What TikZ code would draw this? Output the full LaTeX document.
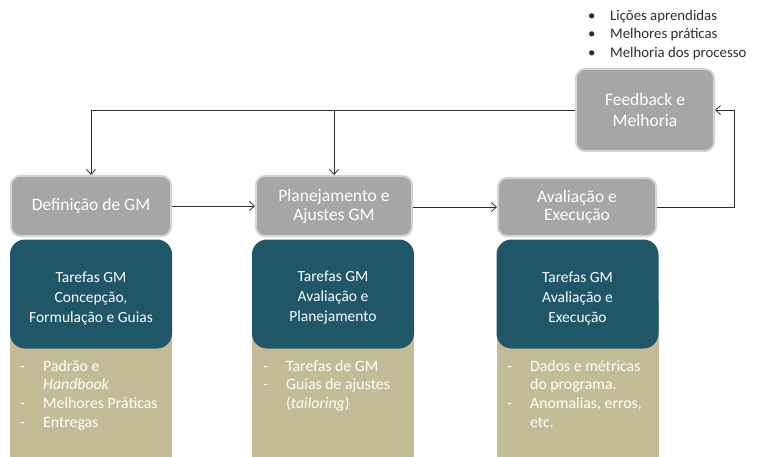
\documentclass[tikz,border=0pt]{standalone}
\usepackage{fontspec}
\setmainfont{Carlito}
\usetikzlibrary{arrows.meta,positioning}
\definecolor{cinza}{RGB}{166,166,166}
\definecolor{cinzaborda}{RGB}{212,212,212}
\definecolor{petroleo}{RGB}{31,86,104}
\definecolor{areia}{RGB}{196,188,150}
\definecolor{linha}{RGB}{45,45,45}
\tikzset{>={Straight Barb[length=5pt,width=9pt]}}
\tikzset{etapa/.style={fill=cinza, draw=cinzaborda, line width=2pt, rounded corners=9pt, text=white, font=\fontsize{17.5}{21.5}\selectfont, align=center, inner sep=0pt}}
\tikzset{tarefa/.style={fill=petroleo, rounded corners=15pt, minimum width=162pt, minimum height=109pt, inner sep=0pt}}
\tikzset{textotarefa/.style={text=white, font=\fontsize{15.5}{20}\selectfont, align=center, inner sep=0pt}}
\tikzset{saida/.style={fill=areia, minimum width=162pt, minimum height=157pt, inner sep=0pt}}
\tikzset{lista/.style={text=white, font=\fontsize{15.8}{18.8}\selectfont, align=left, anchor=north west, inner sep=0pt}}
\tikzset{fluxo/.style={->, draw=linha, line width=0.8pt}}
\newcommand{\traco}{\makebox[23pt][l]{-}}
\newcommand{\recuo}{\hspace*{23pt}}

\begin{document}
\begin{tikzpicture}[x=1pt,y=-1pt]
      \useasboundingbox (0,0) rectangle (760,457);
      % faixas de saida (atras)
      \node[saida] (saidaDef) at (91,378.5) {};
      \node[saida] (saidaPlan) at (333,378.5) {};
      \node[saida] (saidaAval) at (577.5,378.5) {};
      % tarefas
      \node[tarefa] (tarefaDef) at (91,294) {};
      \node[tarefa] (tarefaPlan) at (333,294) {};
      \node[tarefa] (tarefaAval) at (577.5,294) {};
      \node[textotarefa] (txtDef) at ([yshift=-4pt]tarefaDef.center) {Tarefas GM\\Concepção,\\Formulação e Guias};
      \node[textotarefa] (txtPlan) at ([yshift=-4pt]tarefaPlan.center) {Tarefas GM\\Avaliação e\\Planejamento};
      \node[textotarefa] (txtAval) at ([yshift=-4pt]tarefaAval.center) {Tarefas GM\\Avaliação e\\Execução};
      % etapas
      \node[etapa, minimum width=160pt, minimum height=60pt] (def) at (91,206) {Definição de GM};
      \node[etapa, minimum width=156pt, minimum height=60pt] (plan) at (334,206) {\raisebox{-3pt}{\shortstack{Planejamento e\\[1pt]Ajustes GM}}};
      \node[etapa, minimum width=158pt, minimum height=58pt] (aval) at (577,207) {\raisebox{-3pt}{\shortstack{Avaliação e\\[1pt]Execução}}};
      \node[etapa, minimum width=138pt, minimum height=82pt] (fb) at (645,110) {Feedback e\\Melhoria};
      % listas
      \node[lista] (listaDef) at (20,360) {\traco Padrão e\\\recuo\textit{Handbook}\\\traco Melhores Práticas\\\traco Entregas};
      \node[lista] (listaPlan) at (263,360) {\traco Tarefas de GM\\\traco Guias de ajustes\\\recuo(\textit{tailoring})};
      \node[lista] (listaAval) at (507,360) {\traco Dados e métricas\\\recuo do programa.\\\traco Anomalias, erros,\\\recuo etc.};
      \node[anchor=north west, inner sep=0pt, align=left, text=linha, font=\fontsize{14.8}{18.5}\selectfont] (licoes) at (588,10) {\makebox[22pt][l]{\textbullet}Lições aprendidas\\\makebox[22pt][l]{\textbullet}Melhores práticas\\\makebox[22pt][l]{\textbullet}Melhoria dos processo};
      % conectores
      \coordinate (canto) at (734,207);
      \draw[fluxo] (def) -- (plan);
      \draw[fluxo] (plan.east |- aval) -- (aval);
      \draw[fluxo] (aval.east) -- (canto) |- (fb.east);
      \draw[fluxo] (fb.west) -| (def.north);
      \draw[fluxo] (plan.north |- fb.west) -- (plan.north);
    \end{tikzpicture}
\end{document}
